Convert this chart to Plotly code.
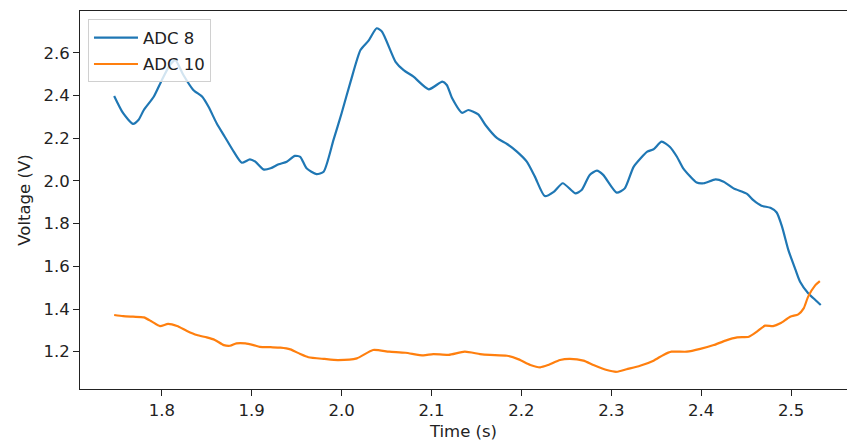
import plotly.graph_objects as go

# ADC 8 channel: time (s) and voltage (V)
adc8_time = [
    1.747, 1.757, 1.768, 1.774, 1.780, 1.791, 1.800, 1.809, 1.815, 1.824,
    1.835, 1.845, 1.852, 1.861, 1.870, 1.880, 1.889, 1.898, 1.904, 1.913,
    1.921, 1.930, 1.939, 1.948, 1.954, 1.961, 1.972, 1.980, 1.991, 2.000,
    2.010, 2.021, 2.030, 2.039, 2.045, 2.060, 2.069, 2.080, 2.097, 2.112,
    2.117, 2.123, 2.134, 2.141, 2.152, 2.160, 2.173, 2.184, 2.195, 2.206,
    2.215, 2.226, 2.236, 2.246, 2.260, 2.267, 2.276, 2.284, 2.291, 2.306,
    2.315, 2.325, 2.340, 2.347, 2.356, 2.365, 2.373, 2.380, 2.395, 2.403,
    2.416, 2.425, 2.436, 2.451, 2.458, 2.467, 2.477, 2.484, 2.490, 2.497,
    2.505, 2.510, 2.519, 2.527, 2.533,
]
adc8_volt = [
    2.398, 2.317, 2.267, 2.285, 2.332, 2.394, 2.472, 2.543, 2.566, 2.496,
    2.426, 2.394, 2.347, 2.270, 2.207, 2.137, 2.085, 2.101, 2.090, 2.054,
    2.059, 2.078, 2.090, 2.117, 2.113, 2.059, 2.032, 2.043, 2.192, 2.317,
    2.465, 2.613, 2.657, 2.715, 2.699, 2.558, 2.519, 2.488, 2.429, 2.465,
    2.449, 2.387, 2.319, 2.332, 2.312, 2.262, 2.200, 2.173, 2.137, 2.090,
    2.020, 1.929, 1.949, 1.989, 1.942, 1.957, 2.028, 2.048, 2.028, 1.945,
    1.965, 2.067, 2.137, 2.148, 2.184, 2.160, 2.113, 2.059, 1.992, 1.989,
    2.007, 1.996, 1.965, 1.939, 1.910, 1.884, 1.874, 1.852, 1.785, 1.676,
    1.583, 1.528, 1.474, 1.442, 1.419,
]

# ADC 10 channel: time (s) and voltage (V)
adc10_time = [
    1.747, 1.757, 1.768, 1.780, 1.789, 1.798, 1.807, 1.817, 1.828, 1.839,
    1.850, 1.859, 1.869, 1.876, 1.883, 1.893, 1.902, 1.909, 1.921, 1.932,
    1.943, 1.954, 1.963, 1.981, 1.996, 2.017, 2.035, 2.053, 2.071, 2.091,
    2.102, 2.119, 2.137, 2.154, 2.165, 2.184, 2.197, 2.210, 2.221, 2.230,
    2.243, 2.254, 2.269, 2.280, 2.295, 2.306, 2.317, 2.332, 2.347, 2.358,
    2.367, 2.384, 2.399, 2.414, 2.427, 2.440, 2.453, 2.462, 2.471, 2.480,
    2.488, 2.499, 2.508, 2.514, 2.519, 2.527, 2.532,
]
adc10_volt = [
    1.372, 1.367, 1.364, 1.361, 1.341, 1.320, 1.330, 1.320, 1.297, 1.278,
    1.267, 1.255, 1.231, 1.228, 1.239, 1.239, 1.231, 1.223, 1.221, 1.219,
    1.211, 1.189, 1.174, 1.166, 1.161, 1.169, 1.208, 1.200, 1.195, 1.183,
    1.189, 1.185, 1.200, 1.189, 1.185, 1.181, 1.164, 1.138, 1.127, 1.138,
    1.161, 1.166, 1.158, 1.138, 1.114, 1.106, 1.118, 1.134, 1.158, 1.185,
    1.200, 1.200, 1.213, 1.231, 1.252, 1.267, 1.270, 1.294, 1.322, 1.320,
    1.333, 1.364, 1.375, 1.403, 1.458, 1.512, 1.531,
]

x_ticks = [1.8, 1.9, 2.0, 2.1, 2.2, 2.3, 2.4, 2.5]
y_ticks = [1.2, 1.4, 1.6, 1.8, 2.0, 2.2, 2.4, 2.6]

FONT = "DejaVu Sans"
FS = 16.5
TEXT = "#222"

fig = go.Figure()
fig.add_trace(go.Scatter(x=adc8_time, y=adc8_volt, mode="lines", name="ADC 8",
                         legendgroup="a",
                         line=dict(color="#1f77b4", width=2.2,
                                   shape="spline", smoothing=0.6)))
fig.add_trace(go.Scatter(x=adc10_time, y=adc10_volt, mode="lines", name="ADC 10",
                         legendgroup="b",
                         line=dict(color="#ff7f0e", width=2.2,
                                   shape="spline", smoothing=0.6)))

axis_common = dict(
    showgrid=False, zeroline=False, showline=True, linecolor="#222",
    linewidth=1, ticks="outside", ticklen=6, tickcolor="#222", tickwidth=1,
    tickfont=dict(family=FONT, size=FS, color=TEXT),
)

fig.update_xaxes(range=[1.709, 2.5622], tickvals=x_ticks,
                 ticktext=[f"{v:.1f}" for v in x_ticks], mirror=True,
                 title=dict(text="Time (s)", font=dict(family=FONT, size=FS, color=TEXT),
                            standoff=6),
                 **axis_common)
fig.update_yaxes(range=[1.0253, 2.7958], tickvals=y_ticks,
                 ticktext=[f"{v:.1f}" for v in y_ticks],
                 title=dict(text="Voltage (V)", font=dict(family=FONT, size=FS, color=TEXT),
                            standoff=8),
                 **axis_common)

fig.update_layout(
    width=847, height=445,
    margin=dict(l=80, r=0, t=11, b=56),
    paper_bgcolor="white", plot_bgcolor="white",
    font=dict(family=FONT, size=FS, color=TEXT),
    showlegend=True,
    legend=dict(x=0.0104, y=0.978, xanchor="left", yanchor="top",
                bgcolor="rgba(255,255,255,0.8)", bordercolor="#d0d0d0", borderwidth=1,
                itemwidth=44, tracegroupgap=2,
                font=dict(family=FONT, size=FS, color=TEXT)),
)

fig.write_html("out.html")
